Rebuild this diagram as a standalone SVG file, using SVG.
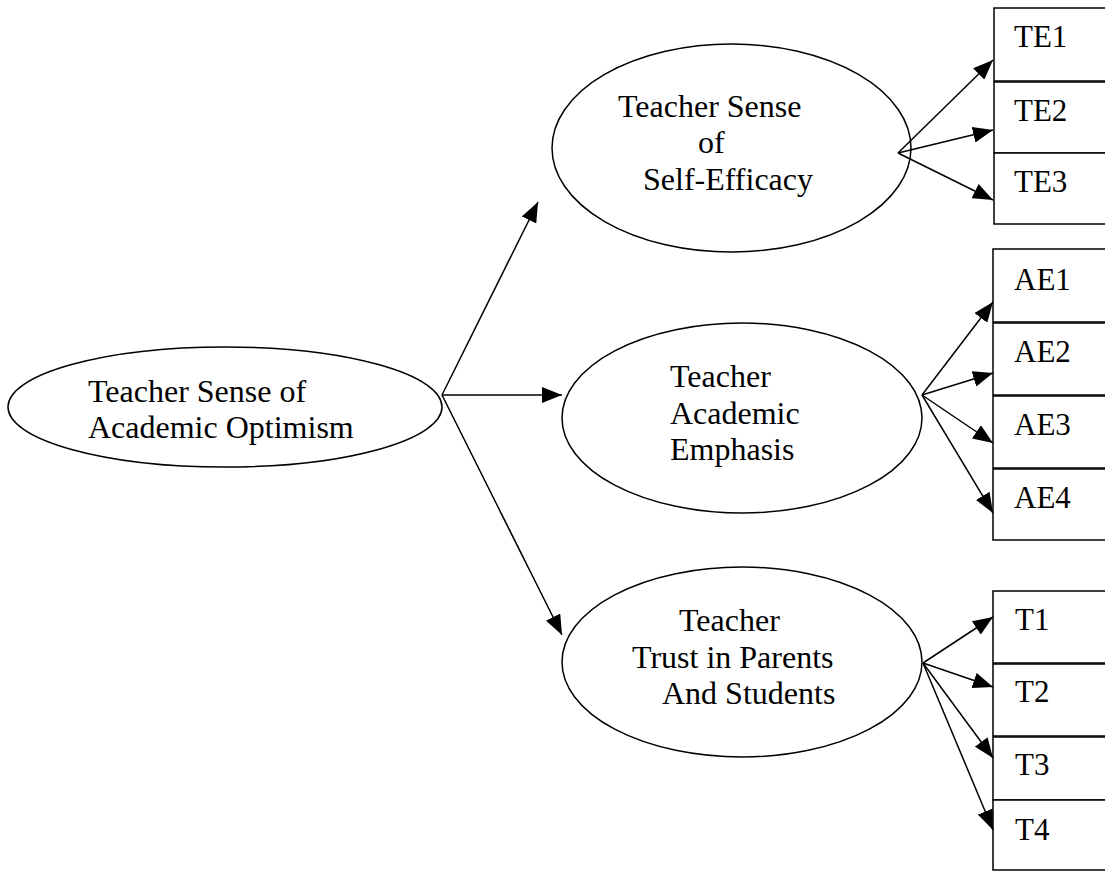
<svg xmlns="http://www.w3.org/2000/svg" width="1105" height="872" viewBox="0 0 1105 872">
<style>
.sh{fill:#fff;stroke:#000;stroke-width:1.5}
.t{font-family:"Liberation Serif","Times New Roman",serif;font-size:32px;fill:#000}
.b{font-family:"Liberation Serif","Times New Roman",serif;font-size:31px;fill:#000}
.c{stroke:#000;stroke-width:1.5;fill:none;marker-end:url(#ah)}
</style>
<defs>
<marker id="ah" markerUnits="userSpaceOnUse" markerWidth="20" markerHeight="16" refX="20" refY="8" orient="auto" viewBox="0 0 20 16">
<path d="M0,0 L20,8 L0,16 Z" fill="#000"/>
</marker>
</defs>
<rect width="1105" height="872" fill="#fff"/>
<g id="main">
<ellipse class="sh" cx="225" cy="407" rx="217" ry="60"/>
<text class="t" x="88" y="402">Teacher Sense of</text>
<text class="t" x="88" y="438">Academic Optimism</text>
</g>
<g id="efficacy">
<ellipse class="sh" cx="731.5" cy="148" rx="179.5" ry="104"/>
<text class="t" x="618" y="117">Teacher Sense</text>
<text class="t" x="698" y="153">of</text>
<text class="t" x="643" y="190">Self-Efficacy</text>
</g>
<g id="emphasis">
<ellipse class="sh" cx="742" cy="418" rx="180" ry="95"/>
<text class="t" x="670" y="387">Teacher</text>
<text class="t" x="670" y="424">Academic</text>
<text class="t" x="670" y="460">Emphasis</text>
</g>
<g id="trust">
<ellipse class="sh" cx="742" cy="662" rx="180" ry="95"/>
<text class="t" x="679" y="631">Teacher</text>
<text class="t" x="632" y="668">Trust in Parents</text>
<text class="t" x="662" y="704">And Students</text>
</g>
<g id="TE1"><rect class="sh" x="994" y="8" width="120" height="73"/><text class="b" x="1014" y="47">TE1</text></g>
<g id="TE2"><rect class="sh" x="994" y="82" width="120" height="71"/><text class="b" x="1014" y="121">TE2</text></g>
<g id="TE3"><rect class="sh" x="994" y="153" width="120" height="71"/><text class="b" x="1014" y="192">TE3</text></g>
<g id="AE1"><rect class="sh" x="993" y="249" width="120" height="73"/><text class="b" x="1014" y="290">AE1</text></g>
<g id="AE2"><rect class="sh" x="993" y="323" width="120" height="72"/><text class="b" x="1014" y="362">AE2</text></g>
<g id="AE3"><rect class="sh" x="993" y="396" width="120" height="72"/><text class="b" x="1014" y="435">AE3</text></g>
<g id="AE4"><rect class="sh" x="993" y="469" width="120" height="71"/><text class="b" x="1014" y="508">AE4</text></g>
<g id="T1"><rect class="sh" x="993" y="591" width="120" height="72"/><text class="b" x="1015" y="630">T1</text></g>
<g id="T2"><rect class="sh" x="993" y="664" width="120" height="72"/><text class="b" x="1015" y="702">T2</text></g>
<g id="T3"><rect class="sh" x="993" y="737" width="120" height="63"/><text class="b" x="1015" y="775">T3</text></g>
<g id="T4"><rect class="sh" x="993" y="800" width="120" height="70"/><text class="b" x="1015" y="840">T4</text></g>
<g id="connectors">
<line class="c" x1="442" y1="395" x2="538" y2="202"/>
<line class="c" x1="442" y1="395" x2="562" y2="395"/>
<line class="c" x1="442" y1="395" x2="562" y2="635"/>
<line class="c" x1="898" y1="153" x2="993" y2="60"/>
<line class="c" x1="898" y1="153" x2="993" y2="130"/>
<line class="c" x1="898" y1="153" x2="993" y2="200"/>
<line class="c" x1="922" y1="395" x2="993" y2="302"/>
<line class="c" x1="922" y1="395" x2="993" y2="373"/>
<line class="c" x1="922" y1="395" x2="993" y2="443"/>
<line class="c" x1="922" y1="395" x2="993" y2="513"/>
<line class="c" x1="923" y1="663" x2="993" y2="617"/>
<line class="c" x1="923" y1="663" x2="993" y2="687"/>
<line class="c" x1="923" y1="663" x2="993" y2="758"/>
<line class="c" x1="923" y1="663" x2="993" y2="830"/>
</g>
</svg>
